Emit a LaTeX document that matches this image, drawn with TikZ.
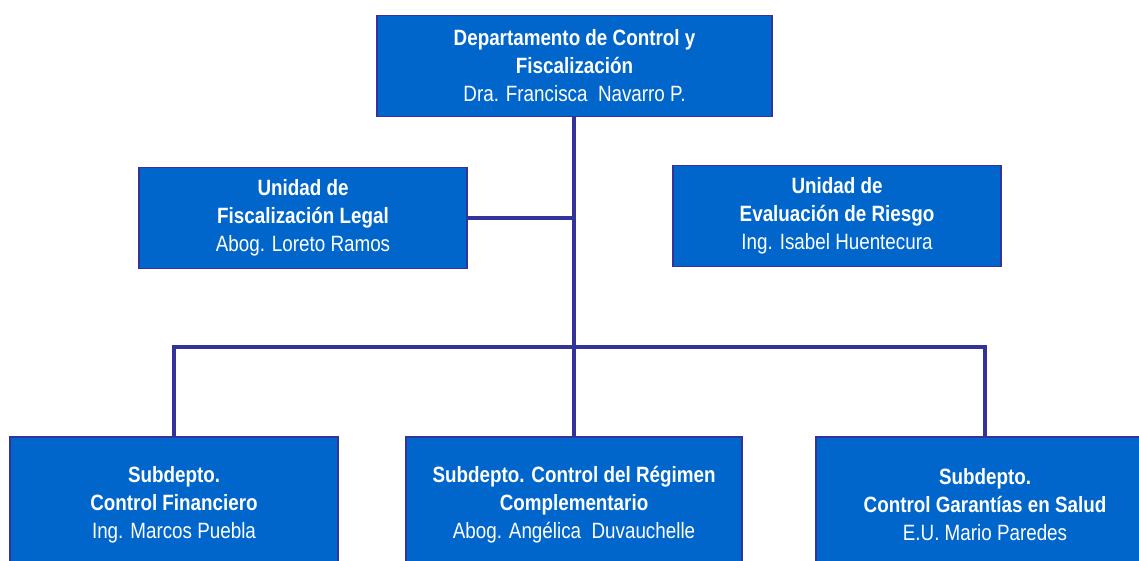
\documentclass[tikz,border=0pt]{standalone}
\usepackage{fontspec}
\setmainfont{Liberation Sans}[FakeStretch=0.85]
\usetikzlibrary{positioning}
\definecolor{boxblue}{HTML}{0066CC}
\definecolor{lineblue}{HTML}{333399}
\tikzset{
	unitbox/.style={draw=lineblue, line width=0.6pt, fill=boxblue, text=white, align=center,
		minimum width=6.56cm, minimum height=2.02cm, inner sep=0pt,
		font=\fontsize{12.6}{15.9}\selectfont},
	orgline/.style={draw=lineblue, line width=2.8pt}
}
\begin{document}
\begin{tikzpicture}
		\useasboundingbox (0,0) rectangle (22.78,-11.2);
		% jefatura
		\node[unitbox, minimum width=7.9cm] (dept) at (11.49,-1.32) {\textbf{Departamento de Control y}\\ \textbf{Fiscalización}\\ Dra. Francisca\ \ Navarro P.};
		% unidades
		\node[unitbox] (legal) at (6.06,-4.36) {\textbf{Unidad de}\\ \textbf{Fiscalización Legal}\\ Abog. Loreto Ramos};
		\node[unitbox] (riesgo) at (16.74,-4.32) {\textbf{Unidad de}\\ \textbf{Evaluación de Riesgo}\\ Ing. Isabel Huentecura};
		% subdeptos
		\node[unitbox, minimum height=2.7cm] (financiero) at (3.48,-10.09) {\textbf{Subdepto.}\\ \textbf{Control Financiero}\\ Ing. Marcos Puebla};
		\node[unitbox, minimum height=2.7cm, minimum width=6.72cm] (regimen) at (11.48,-10.09) {\textbf{Subdepto. Control del Régimen}\\ \textbf{Complementario}\\ Abog. Angélica\ \ Duvauchelle};
		\node[unitbox, minimum height=2.7cm, minimum width=6.76cm] (garantias) at (19.7,-10.09) {\textbf{Subdepto.}\\ \textbf{Control Garantías en Salud}\\ E.U. Mario Paredes};
		% lineas
		\coordinate (barra) at (11.48,-6.94);
		\draw[orgline] (dept.south -| barra) -- (regimen.north -| barra);
		\draw[orgline] (legal.east) -- (legal.east -| barra);
		\draw[orgline] (financiero.north) |- (barra) -| (garantias.north);
\end{tikzpicture}
\end{document}
